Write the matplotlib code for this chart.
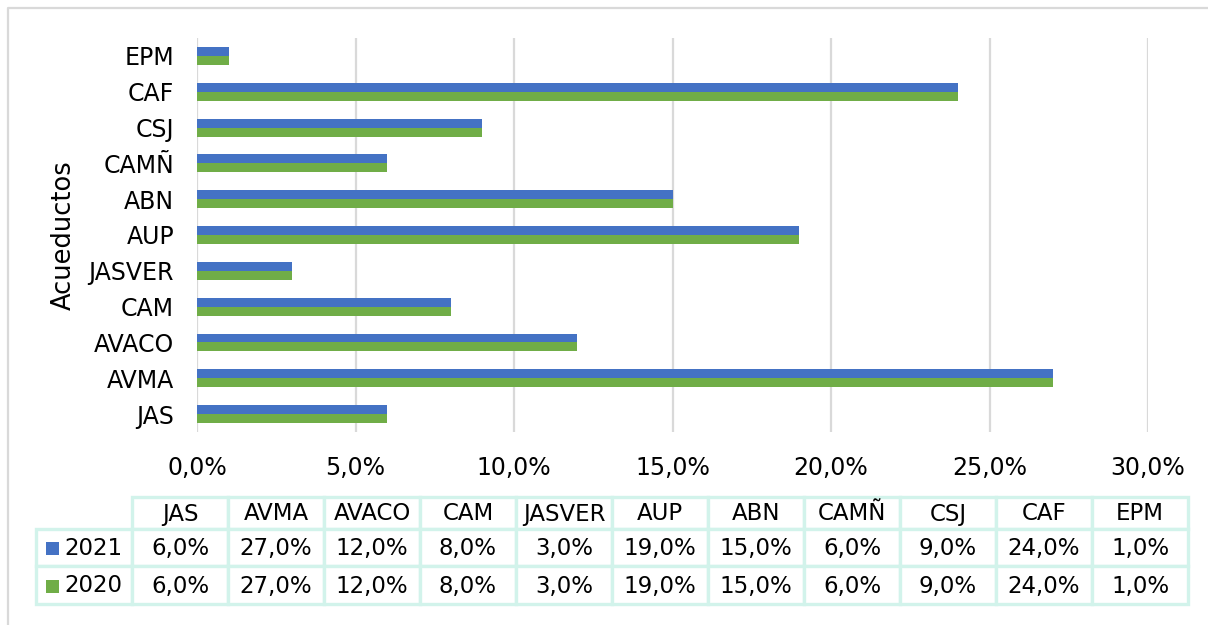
import matplotlib
matplotlib.use("Agg")
import matplotlib.pyplot as plt
from matplotlib.patches import Rectangle
from matplotlib.lines import Line2D
from matplotlib.ticker import FuncFormatter, MultipleLocator

# Data
acueductos = ["JAS", "AVMA", "AVACO", "CAM", "JASVER", "AUP", "ABN", "CAMÑ", "CSJ", "CAF", "EPM"]
pct_2021 = [6.0, 27.0, 12.0, 8.0, 3.0, 19.0, 15.0, 6.0, 9.0, 24.0, 1.0]
pct_2020 = [6.0, 27.0, 12.0, 8.0, 3.0, 19.0, 15.0, 6.0, 9.0, 24.0, 1.0]
series_names = ["2021", "2020"]

BLUE = "#4472C4"
GREEN = "#70AD47"
GRID = "#D9D9D9"
TABLE_EDGE = "#D2F3EB"

plt.rcParams["font.family"] = ["DejaVu Sans"]

W, H = 1208, 625
fig = plt.figure(figsize=(W / 100, H / 100), dpi=100)


def fx(px):
    return px / W


def fy(py):
    return 1 - py / H


# Outer chart frame (only top and left edges fall inside the canvas)
fig.add_artist(Line2D([fx(8), fx(8), fx(1210)], [fy(630), fy(8), fy(8)],
                      transform=fig.transFigure, color=GRID, lw=1.6))

# Plot area
left, right, top, bottom = 197, 1148, 38, 432
ax = fig.add_axes([fx(left), fy(bottom), fx(right - left), (bottom - top) / H])

ypos = list(range(len(acueductos)))
bh = 0.25
ax.barh([y + bh / 2 for y in ypos], [v / 100 for v in pct_2021], height=bh,
        color=BLUE, zorder=3)
ax.barh([y - bh / 2 for y in ypos], [v / 100 for v in pct_2020], height=bh,
        color=GREEN, zorder=3)

ax.set_xlim(0, 0.30)
ax.set_ylim(-0.5, len(acueductos) - 0.5)
ax.xaxis.set_major_locator(MultipleLocator(0.05))
ax.xaxis.set_major_formatter(FuncFormatter(lambda v, p: f"{v * 100:.1f}%".replace(".", ",")))
ax.set_yticks(ypos)
ax.set_yticklabels(acueductos)
ax.grid(axis="x", color=GRID, lw=1.6, zorder=0)
ax.set_axisbelow(True)
for s in ax.spines.values():
    s.set_visible(False)
ax.tick_params(axis="both", length=0, labelsize=17, colors="#000000")
ax.tick_params(axis="x", pad=17)
ax.tick_params(axis="y", pad=16.5)
ax.set_ylabel("Acueductos", fontsize=18.5)
ax.yaxis.set_label_coords((77 - left) / (right - left), (bottom - 235) / (bottom - top))

# Data table below the plot
col_left, col_w = 132, 96
row_edges = [497, 529, 566, 604]
label_left = 36
edge_kw = dict(transform=fig.transFigure, facecolor="white", edgecolor=TABLE_EDGE, lw=2.4)


def cell(x0, x1, y0, y1):
    fig.add_artist(Rectangle((fx(x0), fy(y1)), fx(x1) - fx(x0), fy(y0) - fy(y1), **edge_kw))


def ctext(x, y, s):
    fig.text(fx(x), fy(y), s, ha="center", va="center", fontsize=16.5)


# Header row
for i, name in enumerate(acueductos):
    x0 = col_left + i * col_w
    cell(x0, x0 + col_w, row_edges[0], row_edges[1])
    ctext(x0 + col_w / 2, (row_edges[0] + row_edges[1]) / 2 + 1, name)

# Series rows
for r, (name, vals, color) in enumerate(zip(series_names, [pct_2021, pct_2020], [BLUE, GREEN])):
    y0, y1 = row_edges[r + 1], row_edges[r + 2]
    yc = (y0 + y1) / 2 + 1
    cell(label_left, col_left, y0, y1)
    fig.add_artist(Rectangle((fx(46), fy(yc + 6.5)), fx(13), 13 / H,
                             transform=fig.transFigure, facecolor=color, edgecolor="none"))
    fig.text(fx(64), fy(yc), name, ha="left", va="center", fontsize=16.5)
    for i, v in enumerate(vals):
        x0 = col_left + i * col_w
        cell(x0, x0 + col_w, y0, y1)
        ctext(x0 + col_w / 2, yc, f"{v:.1f}%".replace(".", ","))

fig.savefig("out.png", dpi=100)
